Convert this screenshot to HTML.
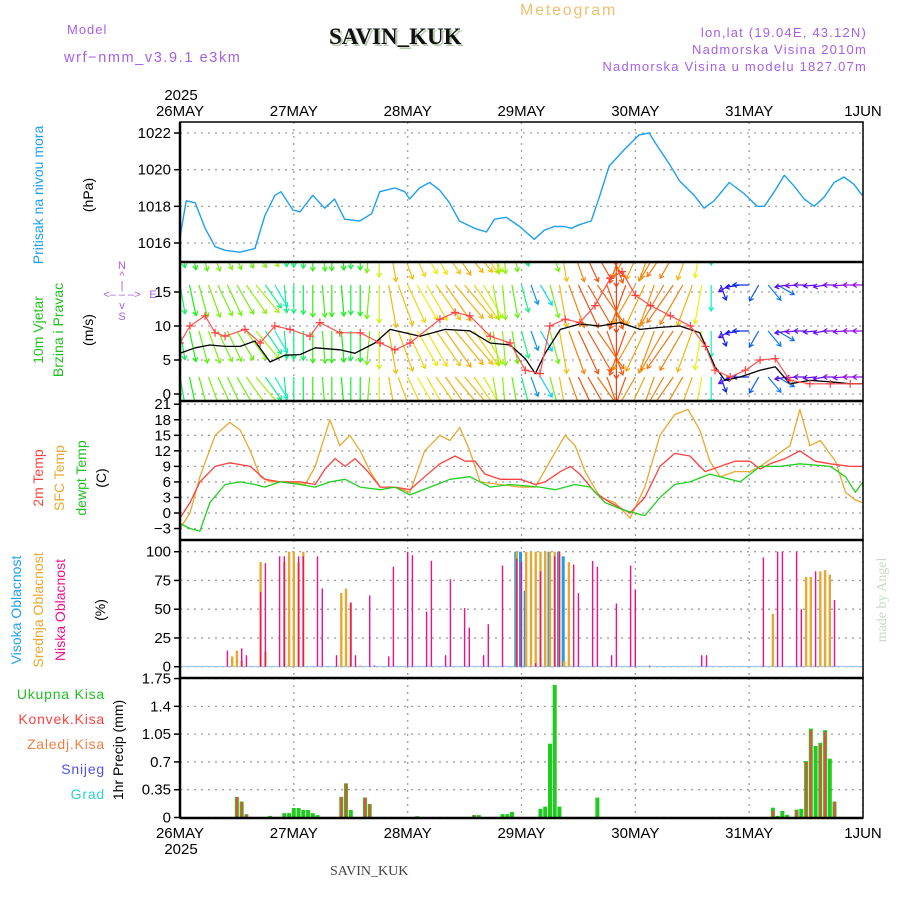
<!DOCTYPE html>
<html><head><meta charset="utf-8"><style>
html,body{margin:0;padding:0;background:#fff;}
svg{display:block;font-family:"Liberation Sans",sans-serif;}
</style></head><body>
<svg id="c" width="900" height="900" viewBox="0 0 900 900" xmlns="http://www.w3.org/2000/svg">
<defs>
<clipPath id="clipW"><rect x="180" y="263" width="683" height="137"/></clipPath>
</defs>
<g>
<text x="67" y="34" font-size="13" fill="#a560e8" letter-spacing="1">Model</text>
<text x="64" y="62" font-size="14.5" fill="#a560e8" letter-spacing="1.6">wrf−nmm_v3.9.1 e3km</text>
<text x="331" y="46" font-size="23" font-weight="bold" font-family="Liberation Serif,serif" fill="#b8c8b0">SAVIN_KUK</text>
<text x="329" y="44" font-size="23" font-weight="bold" font-family="Liberation Serif,serif" fill="#111">SAVIN_KUK</text>
<text x="520" y="15" font-size="16" fill="#f0c070" letter-spacing="1.8">Meteogram</text>
<text x="867" y="37" font-size="13" fill="#a560e8" text-anchor="end" letter-spacing="1.2">lon,lat (19.04E, 43.12N)</text>
<text x="867" y="54" font-size="13" fill="#a560e8" text-anchor="end" letter-spacing="1.2">Nadmorska Visina 2010m</text>
<text x="867" y="71" font-size="13" fill="#a560e8" text-anchor="end" letter-spacing="1.2">Nadmorska Visina u modelu 1827.07m</text>
</g>
<g>
<text transform="translate(43,195) rotate(-90)" font-size="14" fill="#20a0f0" text-anchor="middle">Pritisak na nivou mora</text>
<text transform="translate(93,195) rotate(-90)" font-size="14" fill="#000" text-anchor="middle">(hPa)</text>
<text transform="translate(43,330) rotate(-90)" font-size="14" fill="#20c020" text-anchor="middle">10m Vjetar</text>
<text transform="translate(63,330) rotate(-90)" font-size="14" fill="#20c020" text-anchor="middle">Brzina i Pravac</text>
<text transform="translate(93,330) rotate(-90)" font-size="14" fill="#000" text-anchor="middle">(m/s)</text>
<g fill="#a560e8" font-size="11" text-anchor="middle">
<text x="122" y="269">N</text>
<text x="122" y="279">^</text>
<text x="122" y="289">|</text>
<text x="122" y="298">&lt;‒ ‒ ‒&gt;</text>
<text x="153" y="298">E</text>
<text x="122" y="309">v</text>
<text x="122" y="320">S</text>
</g>
<text transform="translate(43,478) rotate(-90)" font-size="14" fill="#ff4040" text-anchor="middle">2m Temp</text>
<text transform="translate(64,478) rotate(-90)" font-size="14" fill="#e8a830" text-anchor="middle">SFC Temp</text>
<text transform="translate(86,478) rotate(-90)" font-size="14" fill="#20c020" text-anchor="middle">dewpt Temp</text>
<text transform="translate(106,478) rotate(-90)" font-size="14" fill="#000" text-anchor="middle">(C)</text>
<text transform="translate(21,610) rotate(-90)" font-size="14" fill="#20a0f0" text-anchor="middle">Visoka Oblacnost</text>
<text transform="translate(43,610) rotate(-90)" font-size="14" fill="#e8a830" text-anchor="middle">Srednja Oblacnost</text>
<text transform="translate(65,610) rotate(-90)" font-size="14" fill="#f0108c" text-anchor="middle">Niska Oblacnost</text>
<text transform="translate(105,610) rotate(-90)" font-size="14" fill="#000" text-anchor="middle">(%)</text>
<text transform="translate(123,750) rotate(-90)" font-size="14" fill="#000" text-anchor="middle">1hr Precip (mm)</text>
<text x="105" y="699" font-size="14" fill="#20c020" text-anchor="end" letter-spacing="0.8">Ukupna Kisa</text>
<text x="105" y="724" font-size="14" fill="#ff4040" text-anchor="end" letter-spacing="0.8">Konvek.Kisa</text>
<text x="105" y="749" font-size="14" fill="#f08040" text-anchor="end" letter-spacing="0.8">Zaledj.Kisa</text>
<text x="105" y="774" font-size="14" fill="#5050f0" text-anchor="end" letter-spacing="0.8">Snijeg</text>
<text x="105" y="799" font-size="14" fill="#30d0d0" text-anchor="end" letter-spacing="0.8">Grad</text>
</g>
<text x="330" y="875" font-size="14" font-family="Liberation Serif,serif" fill="#444">SAVIN_KUK</text>
<text transform="translate(886,600) rotate(-90)" font-size="14" font-family="Liberation Serif,serif" fill="#c8d8c8" text-anchor="middle">made by Angel</text>
<g id="grid"></g>
<g id="marks"></g>
<g id="frames"></g>
</svg>
<script>
// ---- data ----
const dayLabels = ["26MAY","27MAY","28MAY","29MAY","30MAY","31MAY","1JUN"];
const pressHours = [0,1.3,3.2,5.3,7.4,9.5,12.6,15.8,17.9,20,21.3,23.8,25.3,28,30.5,32.6,34.7,37.9,40.4,42.1,45.3,47.4,48.4,50.5,52.6,54.7,56.8,58.9,62.1,64.6,66.3,68.8,71.6,74.7,76.8,78.9,81,82.5,84.2,86.7,88.4,90.5,93.7,96.8,98.9,100.6,103.2,105.3,108.4,110.5,112.6,115.8,118.9,121.7,123.2,125.3,127.4,129.5,131.6,133.7,135.8,137.9,140,142.1,143.8];
const pressValues = [1016.3,1018.3,1018.2,1016.8,1015.8,1015.6,1015.5,1015.7,1017.5,1018.6,1018.8,1017.8,1017.7,1018.6,1017.9,1018.4,1017.3,1017.2,1017.6,1018.8,1019.0,1018.8,1018.4,1019.0,1019.3,1018.9,1018.2,1017.2,1016.8,1016.6,1017.3,1017.4,1016.9,1016.2,1016.7,1016.9,1016.9,1016.8,1017.0,1017.2,1018.5,1020.2,1021.1,1021.9,1022.0,1021.3,1020.3,1019.4,1018.6,1017.9,1018.3,1019.3,1018.7,1018.0,1018.0,1018.8,1019.7,1019.1,1018.4,1018.0,1018.5,1019.3,1019.6,1019.2,1018.6];
const pressTicks = [1016,1018,1020,1022];
const windHours = [0,3.2,6.3,9.5,12.7,15.8,19,22.1,25.3,28.5,33.7,36.9,41.1,44.3,47.4,50.6,55.9,61.1,65.4,69.6,72.8,74.9,77,80.2,84.3,88.5,92.8,97,101.2,105.4,109.6,112.8,114.9,118.1,122.3,125.5,128.6,132.8,137.1,141.3,144];
const windSpeed = [6,6.8,7.2,7,7,7.8,4.7,5.7,5.8,6.8,6.5,6,7.5,9.5,9,8.5,9.5,9.3,7.5,7.2,5.2,3,6,9.5,10.3,10,10.5,9.5,9.8,10,9,4,2,2.5,3.5,4,1.5,2,1.8,1.5,1.5];
const gustHours = [0,2.1,5.3,7.4,9.5,13.7,16.9,20,23.2,27.4,29.5,33.7,38,42.2,45.3,48.5,54.8,58,61.1,65.4,69.6,72.8,75.9,78,81.2,84.3,87.5,90.7,93.2,96,99.2,103.4,107.6,110.8,112.8,116,119.2,122.3,125.5,128.6,132.8,137.1,141.3,144];
const gustSpeed = [7.5,10,11.5,9,8.5,9.5,7.5,10,9.5,8.5,10.5,9,9,7.5,6.5,7.5,11,12,11.5,8.5,7.5,3.5,3,10,11,10.5,13,17,18,14.5,13,11.5,10,7,3.5,2.5,3.5,5,5.2,2,1.5,1.5,1.5,1.5];
const arrowHours = [0,2,4,6,8,10,12,14,16,18,20,22,24,26,28,30,32,34,36,38,40,42,44,46,48,50,52,54,56,58,60,62,64,66,68,70,72,74,76,78,80,82,84,86,88,90,92,94,96,98,100,102,104,106,108,110,112,114,116,118,120,122,124,126,128,130,132,134,136,138,140,142,144];
const arrowDir = [10,12,15,20,25,25,30,35,40,35,30,5,0,0,0,5,0,5,0,0,-5,0,10,20,25,30,30,35,35,40,40,35,30,10,5,10,15,20,30,15,10,20,25,30,35,20,0,-20,-30,-25,-20,-30,-35,-30,-20,-10,0,20,-60,-80,-90,-30,40,60,-80,-85,-90,-85,-80,-90,-85,-90,-90];
const t2Hours = [0,2.1,4.2,7.4,10.5,14.8,17.9,21.1,25.3,28.5,30.6,32.7,34.8,36.9,39.6,42.2,45.3,48.5,51.6,54.8,58,60.1,62.2,64.3,67.5,71.7,74.9,77,80.2,82.3,84.3,87.5,90.7,94.9,98,101.2,104.3,107.5,110.7,113.9,117,120.2,122.3,124.4,127.6,130.7,133.9,137.1,141.3,144];
const t2Values = [-1,2,6,9,9.7,9,6.5,6,6,5.5,8.5,10.5,9,10.5,8,5,5,4.5,7,9.5,11,10,10,7.5,6.5,6.5,5.5,6,8,9,7.5,4,2,0,3,9,11.5,11,8,9,10,10,8.5,9.5,10.5,12,10,9.5,9,9];
const sfcHours = [0,2.1,4.2,7.4,10.5,12.7,14.8,16.9,19,23.2,26.4,28.5,31.6,33.7,35.8,38,40.1,42.2,45.3,48.5,51.6,54.8,56.9,59,61.1,63.3,67.5,71.7,74.9,78,81.2,83.3,85.4,88.6,91.7,94.9,98,101.2,104.3,107.1,109.6,111.7,113.9,117,120.2,122.3,125.5,128.6,130.7,132.8,135,138.2,140.3,142.4,144];
const sfcValues = [-3,0,7,15,17.5,16,12,7,6,6,5.5,9,18,13,15,12,8,5,5,4,12,15,14,16.5,12,6,5.5,5,5,10,15,13,8,3,2,-1,5,15,19,20,16,10,7,8,8,9,11,13,20,13,14,10,4,2.5,2];
const dewHours = [0,2.1,4.2,6.3,9.5,12.7,15.8,17.9,21.1,25.3,28.5,31.6,34.8,38,42.2,45.3,48.5,52.7,56.9,61.1,65.4,69.6,75.9,79.1,83.3,86.5,89.6,93.8,98,101.2,104.3,107.5,111.7,113.9,118.1,122.3,126.5,130.7,137.1,140.3,142.4,144];
const dewValues = [-2,-3,-3.5,2,5.5,6,5.5,5,6,5.5,5,6,6.5,5,4.5,5,3.5,5,6.5,7,5,5.5,5,4.5,5.5,5,2,0.5,-0.5,3,5.5,6,7.5,7,6,9,9,9.5,9,7,4,6];
const tempTicks = [-3,0,3,6,9,12,15,18,21];
const lowHours = [10,13,14,17,18,21,22,25,26,29,30,33,36,37,40,41,44,45,48,49,52,53,56,57,60,61,64,65,68,71,72,75,76,79,80,83,84,87,88,91,92,95,96,99,110,111,123,126,127,130,131,134,138];
const lowValues = [14,16,10,65,90,96,96,96,96,96,68,10,56,10,62,1,9,87,100,97,48,92,10,76,51,34,10,37,88,94,91,3,83,96,100,89,64,92,87,10,55,88,67,1,10,10,95,100,100,100,50,83,58];
const midHours = [11,12,13,17,18,22,23,24,25,26,34,35,36,38,71,73,74,75,76,77,78,79,80,81,82,125,132,133,135,136,137];
const midValues = [9,14,5,91,13,91,100,100,91,100,64,68,55,1,100,100,100,100,100,100,100,100,100,5,91,46,78,78,83,84,80];
const highHours = [71,72,73,78,80,81];
const highValues = [100,100,66,100,100,96];
const cloudTicks = [0,25,50,75,100];
const totHours = [12,13,14,19,22,23,24,25,26,27,28,29,34,35,36,39,40,50,62,63,68,69,70,76,77,78,79,80,88,125,126,127,128,130,131,132,133,134,135,136,137,138];
const totValues = [0.26,0.2,0.04,0.02,0.055,0.055,0.12,0.12,0.094,0.094,0.055,0.03,0.26,0.43,0.094,0.25,0.17,0.017,0.03,0.03,0.043,0.043,0.07,0.11,0.137,0.93,1.67,0.137,0.25,0.124,0.02,0.085,0.034,0.1,0.11,0.71,1.12,0.9,0.94,1.1,0.74,0.2];
const convHours = [12,13,14,34,35,39,40,62,125,130,132,133,135,136,138];
const convValues = [0.26,0.2,0.04,0.26,0.43,0.25,0.17,0.03,0.085,0.09,0.7,1.1,0.92,1.08,0.2];
const precipTicks = [0,0.35,0.7,1.05,1.4,1.75];

// ---- scales ----
const X0=180, X1=863;
const X = h => X0 + h*(X1-X0)/144;
const P = v => 243 - (v-1016)*18.33;
const W = v => 394 - v*6.8;
const T = v => 513 - v*5.18;
const C = v => 666.7 - v*1.15;
const R = v => 817.5 - v*79.4;
const NS="http://www.w3.org/2000/svg";
function mk(tag, attrs, parent){const e=document.createElementNS(NS,tag);for(const k in attrs)e.setAttribute(k,attrs[k]);parent.appendChild(e);return e;}
const grid=document.getElementById('grid'), marks=document.getElementById('marks'), frames=document.getElementById('frames');
const panels=[[122,262],[262,401],[401,540],[540,678],[678,818]];

function yAxis(ticks, f, fmt, name){
  ticks.forEach(t=>{
    const y=f(t);
    const g=mk('line',{x1:X0,x2:X1,y1:y,y2:y,stroke:'#a0a0a0','stroke-width':1.3,'stroke-dasharray':'2,5'},grid);
    
    
    mk('line',{x1:X0-6,x2:X0,y1:y,y2:y,stroke:'#000','stroke-width':1.5},grid);
    const tx=mk('text',{x:X0-9,y:y+5,'font-size':15,'text-anchor':'end',fill:'#000'},grid);
    tx.textContent=fmt(t);
    
    
  });
}
yAxis(pressTicks,P,String,'pressure');
yAxis([0,5,10,15],W,String,'wind');
yAxis(tempTicks,T,t=>t<0?'−'+(-t):String(t),'temp');
yAxis(cloudTicks,C,String,'cloud');
yAxis(precipTicks,R,String,'precip');
dayLabels.forEach((d,i)=>{
  const x=X(i*24);
  panels.forEach(p=>{
    const l=mk('line',{x1:x,x2:x,y1:p[0],y2:p[1],stroke:'#a0a0a0','stroke-width':1.3,'stroke-dasharray':'2,5'},grid);
    
    
  });
  const t1=mk('text',{x:x,y:116,'font-size':15,'text-anchor':'middle',fill:'#000'},grid);
  t1.textContent=d;
  
  
  const t2=mk('text',{x:x,y:838,'font-size':15,'text-anchor':'middle',fill:'#000'},grid);
  t2.textContent=d;
  
  
});
[[181,100],[181,854]].forEach(p=>{const t=mk('text',{x:p[0],y:p[1],'font-size':15,'text-anchor':'middle',fill:'#000'},grid);t.textContent='2025';

});

function line(hs, vs, f, color, w, name, parent){
  const n=Math.min(hs.length,vs.length);
  const pts=[];for(let i=0;i<n;i++)pts.push(X(hs[i]).toFixed(1)+','+f(vs[i]).toFixed(1));
  const pl=mk('polyline',{points:pts.join(' '),fill:'none',stroke:color,'stroke-width':w,'stroke-linejoin':'round'},parent||marks);
  
  
}
line(pressHours,pressValues,P,'#1ea0f0',1.4,'pressure-line');

// wind arrows
function spdAt(h){for(let i=1;i<windHours.length;i++){if(h<=windHours[i]){const a=windHours[i-1],b=windHours[i];return windSpeed[i-1]+(windSpeed[i]-windSpeed[i-1])*(h-a)/(b-a);}}return windSpeed[windSpeed.length-1];}
const hueStops=[[1.5,275],[3,230],[4.5,190],[6,140],[7,95],[8.5,60],[9.5,42],[10.5,10]];
function hue(s){if(s<=hueStops[0][0])return hueStops[0][1];for(let i=1;i<hueStops.length;i++){if(s<=hueStops[i][0]){const a=hueStops[i-1],b=hueStops[i];return a[1]+(b[1]-a[1])*(s-a[0])/(b[0]-a[0]);}}return 345;}
const wg=mk('g',{'clip-path':'url(#clipW)'},marks);


const rows=[239,285,331,377];
const nA=Math.min(arrowHours.length,arrowDir.length);
for(let i=0;i<nA;i++){
  const s=spdAt(arrowHours[i]);
  const L=s*4.2+4, a=arrowDir[i]*Math.PI/180;
  const dx=L*Math.sin(a), dy=L*Math.cos(a);
  const col='hsl('+hue(s).toFixed(0)+',90%,50%)';
  rows.forEach(y0=>{
    const x0=X(arrowHours[i]);
    const x1=x0+dx,y1=y0+dy;
    const ux=dx/L,uy=dy/L;
    const hx1=x1-4*ux+2.5*uy, hy1=y1-4*uy-2.5*ux;
    const hx2=x1-4*ux-2.5*uy, hy2=y1-4*uy+2.5*ux;
    const p=mk('path',{d:`M${x0.toFixed(1)},${y0} L${x1.toFixed(1)},${y1.toFixed(1)} M${hx1.toFixed(1)},${hy1.toFixed(1)} L${x1.toFixed(1)},${y1.toFixed(1)} L${hx2.toFixed(1)},${hy2.toFixed(1)}`,stroke:col,'stroke-width':1.2,fill:'none'},wg);
    
    
  });
}
line(windHours,windSpeed,W,'#000',1.3,'wind-speed-line',wg);
line(gustHours,gustSpeed,W,'#ff5050',1.2,'wind-gust-line',wg);
for(let i=0;i<Math.min(gustHours.length,gustSpeed.length);i++){
  const x=X(gustHours[i]),y=W(gustSpeed[i]);
  const m=mk('path',{d:`M${x-4},${y} h8 M${x},${y-4} v8`,stroke:'#ff4040','stroke-width':1.2},wg);
  
  
}

// temperature
line(sfcHours,sfcValues,T,'#e8a830',1.3,'sfc-temp-line');
line(t2Hours,t2Values,T,'#ff4040',1.3,'2m-temp-line');
line(dewHours,dewValues,T,'#20d020',1.3,'dewpoint-line');

function bars(hs, vs, f, base, color, w, name, off){
  const n=Math.min(hs.length,vs.length);
  for(let i=0;i<n;i++){
    const x=X(hs[i])+(off||0), y=f(vs[i]);
    const r=mk('rect',{x:(x-w/2).toFixed(1),y:y.toFixed(1),width:w,height:Math.max(0,base-y).toFixed(1),fill:color},marks);
    
    
  }
}
mk('line',{x1:X0,x2:X1,y1:666.5,y2:666.5,stroke:'#9cc8e8','stroke-width':1.2},marks);
bars(highHours,highValues,C,666.7,'#1e9bf0',3,'cloud-high-bar',-1);
bars(midHours,midValues,C,666.7,'#e8a830',2.4,'cloud-mid-bar',0);
bars(lowHours,lowValues,C,666.7,'#f0108c',1.4,'cloud-low-bar',0);

bars(totHours,totValues,R,817.5,'#20cc20',4,'precip-total-bar',0);
bars(convHours,convValues,R,817.5,'#ff4040',2,'precip-convective-bar',0);

panels.forEach((p,i)=>{
  const r=mk('rect',{x:X0,y:p[0],width:X1-X0,height:p[1]-p[0],fill:'none',stroke:'#000','stroke-width':1.5},frames);
  
  
  if(i>0){mk('line',{x1:X0,x2:X1,y1:p[0],y2:p[0],stroke:'#000','stroke-width':2.5},frames);}
});
mk('line',{x1:X0,x2:X0,y1:122,y2:818,stroke:'#000','stroke-width':2.5},frames);
mk('line',{x1:X0,x2:X1,y1:818,y2:818,stroke:'#000','stroke-width':2.5},frames);
</script>
</body></html>
